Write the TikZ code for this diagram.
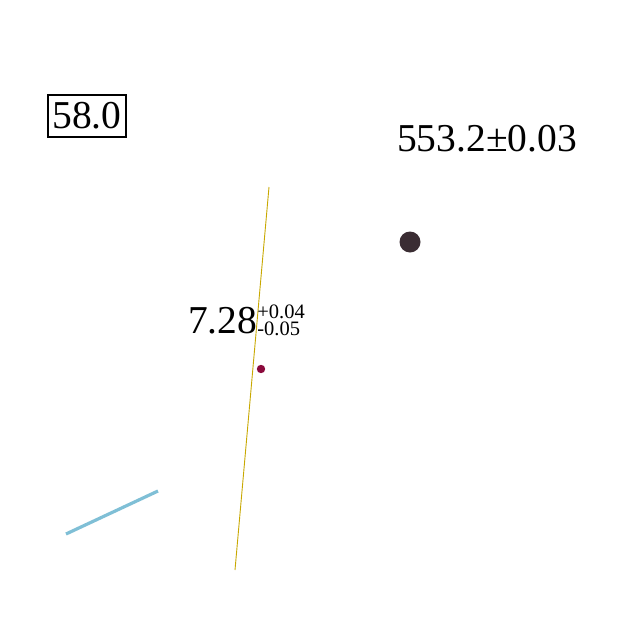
\documentclass[tikz,border=0pt]{standalone}
\usepackage{fontspec}
\setmainfont{Liberation Serif}
\definecolor{goldline}{RGB}{200,168,0}
\definecolor{darkdot}{RGB}{58,45,51}
\definecolor{reddot}{RGB}{139,10,60}
\definecolor{blueline}{RGB}{127,191,214}
\tikzset{
  bigtext/.style={font=\fontsize{39.5}{39.5}\selectfont, inner sep=0pt, anchor=base},
  boxed/.style={font=\fontsize{39.5}{39.5}\selectfont, draw=black, line width=1.8pt, inner sep=0pt, minimum width=78pt, minimum height=42pt},
}
\begin{document}
\begin{tikzpicture}[x=1pt,y=-1pt]
\useasboundingbox (0,0) rectangle (640,640);
\fill[white] (0,0) rectangle (640,640);
% box label
\node[boxed, anchor=center] (b58) at (87,116) {58.0};
% top right label
\node[bigtext] (t553) at (487,151) {553.2±0.03};
% dark dot
\fill[darkdot] (410,242) circle (10.5);
\node[inner sep=0pt, minimum size=21pt] (dd) at (410,242) {};
% gold line
\coordinate (g1) at (269,187);
\coordinate (g2) at (235,570);
\draw[goldline, line width=0.9pt] (g1) -- (g2);
% 7.28 label
\node[bigtext, anchor=base west] (t728) at (188,333) {7.28\raisebox{-2pt}{\fontsize{20.5}{14}\selectfont\shortstack[l]{+0.04\\-0.05}}};
% red dot
\fill[reddot] (261,369) circle (4.2);
\node[inner sep=0pt, minimum size=8pt] (rd) at (261,369) {};
% blue line
\coordinate (bl1) at (66,534);
\coordinate (bl2) at (158,491);
\draw[blueline, line width=3.2pt] (bl1) -- (bl2);
\end{tikzpicture}
\end{document}
